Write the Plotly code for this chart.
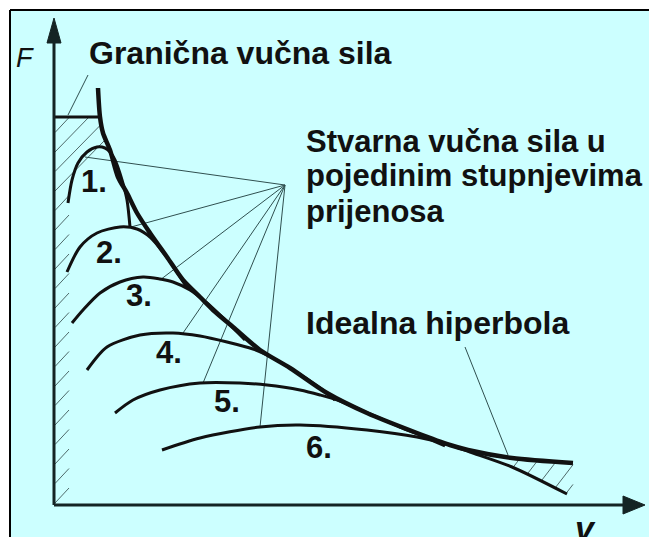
import numpy as np
import plotly.graph_objects as go

# ---------------- data (diagram units: v to the right, F upward; origin at axis corner)
hyper_v = [44, 46, 49, 56, 64, 73, 83, 96, 113, 129, 146, 159, 179, 206, 236, 273, 313, 363, 396, 414, 458, 519]
hyper_F = [417, 388, 372, 355, 328, 312, 292, 272, 248, 225, 208, 195, 178, 155, 137, 112, 92, 72, 60, 55, 47, 42]

gear_names = ["1.", "2.", "3.", "4.", "5.", "6."]
gear1_v = [14, 18, 24, 33, 43, 51, 56, 61, 68, 73, 76]
gear1_F = [302, 325, 342, 353, 358, 357, 353, 345, 325, 305, 278]
gear2_v = [13, 26, 43, 66, 83, 96, 109, 123, 133]
gear2_F = [233, 258, 272, 278, 276, 268, 253, 233, 217]
gear3_v = [18, 29, 46, 66, 89, 106, 119, 136, 153, 171, 191]
gear3_F = [182, 195, 212, 223, 228, 226, 223, 215, 202, 185, 165]
gear4_v = [33, 53, 86, 119, 146, 173, 199, 213, 236, 266, 281]
gear4_F = [135, 158, 170, 172, 169, 163, 156, 150, 137, 117, 105]
gear5_v = [61, 79, 106, 146, 186, 213, 246, 266, 286, 316, 346, 371, 391]
gear5_F = [92, 105, 115, 122, 122, 120, 115, 110, 104, 91, 78, 68, 59]
gear6_v = [108, 146, 206, 246, 313, 363, 396, 416, 458, 513]
gear6_F = [55, 67, 78, 80, 75, 68, 60, 53, 38, 11]

limit_force = 388          # "Granična vučna sila" level
fan_apex = (231, 320)      # common point of the "Stvarna vučna sila" pointers
fan_targets_v = [31, 77, 106, 129, 149, 206]
fan_targets_F = [348, 278, 225, 172, 122, 78]

# ---------------- styles / layout constants
BG = "#ccffff"
INK = "#111111"
AXIS = "#142424"
THIN = "#2f4f4f"
FONT = "Liberation Sans, Arial, sans-serif"
X0, X1 = -54, 595
Y0, Y1 = -32, 505
V_TIP, F_TIP = 591, 487

fig = go.Figure()

def line(xs, ys, color, width, shape="spline", smoothing=0.8):
    fig.add_trace(go.Scatter(x=xs, y=ys, mode="lines", hoverinfo="skip",
                             line=dict(color=color, width=width, shape=shape, smoothing=smoothing)))

# background panel and frame (top and left edges only)
fig.add_shape(type="rect", xref="paper", yref="paper", x0=11 / 649, x1=1, y0=0, y1=1 - 11 / 537,
              fillcolor=BG, line=dict(width=0), layer="below")
fig.add_shape(type="line", xref="paper", yref="paper", x0=10 / 649, x1=1, y0=1 - 10 / 537, y1=1 - 10 / 537,
              line=dict(color="#000000", width=2), layer="below")
fig.add_shape(type="line", xref="paper", yref="paper", x0=10 / 649, x1=10 / 649, y0=0, y1=1 - 10 / 537,
              line=dict(color="#000000", width=2), layer="below")

# hatching along the force axis (limit of adhesion)
def h_v_at(F):
    return np.interp(F, hyper_F[::-1], hyper_v[::-1])

hx, hy = [], []
f0 = 2.0
while f0 < limit_force:
    if f0 < 300:
        t = 15
    else:
        ts = np.linspace(0, 120, 1201)
        ok = [tt for tt in ts if f0 + tt <= limit_force and tt <= h_v_at(f0 + tt)]
        t = ok[-1] if ok else 0
    hx += [1, t, None]
    hy += [f0, f0 + t, None]
    f0 += 19.5
line(hx, hy, "#4f6a6a", 1, shape="linear")

# hatching between ideal hyperbola and 6th gear at high speed
bx, by = [], []
for vs in [459, 473, 487, 501, 512]:
    fs = np.interp(vs, gear6_v, gear6_F)
    ts = np.linspace(0, 20, 401)
    t_end = 0
    for tt in ts:
        if vs + tt > hyper_v[-1]:
            break
        if fs + 1.3 * tt >= np.interp(vs + tt, hyper_v, hyper_F):
            t_end = tt
            break
        t_end = tt
    bx += [vs, vs + t_end, None]
    by += [fs, fs + 1.3 * t_end, None]
line(bx, by, "#4f6a6a", 1, shape="linear")

# limit line
line([0, h_v_at(limit_force)], [limit_force, limit_force], INK, 3, shape="linear")

# pointer lines
px, py = [], []
for tv, tf in zip(fan_targets_v, fan_targets_F):
    px += [fan_apex[0], tv, None]
    py += [fan_apex[1], tf, None]
line(px, py, THIN, 1, shape="linear")
line([34, 14], [430, 390], THIN, 1, shape="linear")      # Granična pointer
line([411, 454], [158, 50], THIN, 1, shape="linear")     # hiperbola pointer

# gear curves
for gv, gF in [(gear1_v, gear1_F), (gear2_v, gear2_F), (gear3_v, gear3_F),
               (gear4_v, gear4_F), (gear5_v, gear5_F), (gear6_v, gear6_F)]:
    line(gv, gF, INK, 3)

# ideal hyperbola
line(hyper_v, hyper_F, INK, 4.5)

# axes with arrowheads
line([0, 0, None, 0, V_TIP - 22], [F_TIP - 25, 0, None, 0, 0], AXIS, 3, shape="linear")
fig.add_trace(go.Scatter(x=[-7, 7, 0, -7], y=[F_TIP - 25, F_TIP - 25, F_TIP, F_TIP - 25],
                         mode="lines", fill="toself", fillcolor=AXIS, line=dict(color=AXIS, width=1),
                         hoverinfo="skip"))
fig.add_trace(go.Scatter(x=[V_TIP - 22, V_TIP - 22, V_TIP, V_TIP - 22], y=[-9, 9, 0, -9],
                         mode="lines", fill="toself", fillcolor=AXIS, line=dict(color=AXIS, width=1),
                         hoverinfo="skip"))

# texts
def text(s, x, y, size, anchor="left"):
    fig.add_annotation(x=x, y=y, text=s, showarrow=False, xanchor=anchor, yanchor="middle",
                       font=dict(family=FONT, size=size, color=INK))

text("<b>Granična vučna sila</b>", 33, 452, 32)
text("<b>Stvarna vučna sila u</b>", 250, 364, 31)
text("<b>pojedinim stupnjevima</b>", 250, 330, 31)
text("<b>prijenosa</b>", 250, 294, 31)
text("<b>Idealna hiperbola</b>", 250, 182, 32)
text("<i>F</i>", -40, 447, 27)
text("<b><i>v</i></b>", 519, -23, 34)
label_v = [25, 40, 70, 100, 158, 250]
label_F = [324, 253, 210, 153, 104, 58]
for name, lv, lf in zip(gear_names, label_v, label_F):
    text("<b>" + name + "</b>", lv, lf, 31)

fig.update_layout(width=649, height=537, margin=dict(l=0, r=0, t=0, b=0),
                  paper_bgcolor="white", plot_bgcolor="white", showlegend=False,
                  xaxis=dict(range=[X0, X1], visible=False, fixedrange=True),
                  yaxis=dict(range=[Y0, Y1], visible=False, fixedrange=True))

fig.write_html("out.html", config={"displayModeBar": False},
               post_script="document.body.style.margin='0';document.body.style.overflow='hidden';"
                           "document.documentElement.style.overflow='hidden';")
